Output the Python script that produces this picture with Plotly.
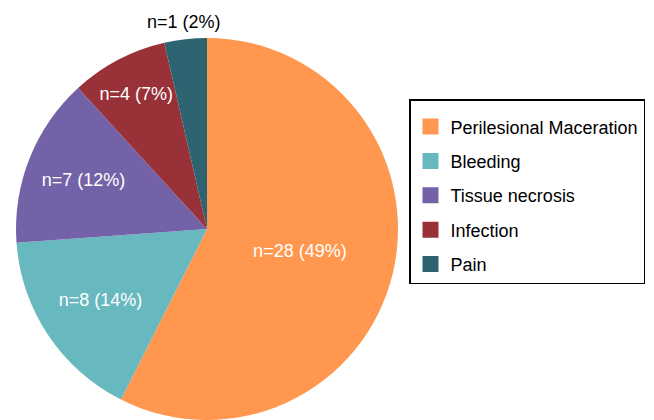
import math
import plotly.graph_objects as go

categories = ["Perilesional Maceration", "Bleeding", "Tissue necrosis", "Infection", "Pain"]
counts = [28, 8, 7, 4, 1]
percents = [49, 14, 12, 7, 2]
# slice sizes as drawn in the reference (the smallest slice is drawn a bit larger)
slice_values = [28, 8, 7, 4, 1.75]
colors = ["#FF974F", "#68B8C0", "#7462A8", "#993238", "#2E6472"]
text_position = ["inside", "inside", "inside", "inside", "outside"]

W, H = 654, 420
FONT = "Liberation Sans, Arial, Helvetica, sans-serif"
labels_text = [f"n={c} ({p}%)" for c, p in zip(counts, percents)]

pie_dom_x = [16 / W, 398 / W]
pie_dom_y = [0, 382 / H]

fig = go.Figure()
fig.add_trace(go.Pie(
    labels=categories,
    values=slice_values,
    text=[t if pos == "inside" else "" for t, pos in zip(labels_text, text_position)],
    textinfo="text",
    hovertext=labels_text,
    hoverinfo="label+text",
    sort=False,
    direction="clockwise",
    rotation=0,
    marker=dict(colors=colors, line=dict(width=0)),
    textposition=["inside" if p == "inside" else "none" for p in text_position],
    insidetextorientation="horizontal",
    insidetextfont=dict(color="#ffffff", size=18, family=FONT),
    showlegend=False,
    domain=dict(x=pie_dom_x, y=pie_dom_y),
))

# outside labels, centred just beyond the rim at the slice's mid-angle
total = sum(slice_values)
cx = (pie_dom_x[0] + pie_dom_x[1]) / 2 * W
cy = (pie_dom_y[0] + pie_dom_y[1]) / 2 * H
radius = (pie_dom_x[1] - pie_dom_x[0]) * W / 2
cum = 0
for v, t, pos in zip(slice_values, labels_text, text_position):
    mid = 2 * math.pi * (cum + v / 2) / total
    cum += v
    if pos != "outside":
        continue
    r = radius + 17
    fig.add_annotation(
        x=(cx + r * math.sin(mid)) / W, y=(cy + r * math.cos(mid)) / H,
        xref="paper", yref="paper", text=t, showarrow=False,
        xanchor="center", yanchor="middle",
        font=dict(color="#000000", size=18, family=FONT),
    )

# legend entries
for cat, col in zip(categories, colors):
    fig.add_trace(go.Scatter(
        x=[None], y=[None], mode="markers", name=cat,
        marker=dict(symbol="square", size=16, color=col),
        legendgroup=cat, showlegend=True,
    ))

fig.update_layout(
    width=W, height=H,
    margin=dict(l=0, r=0, t=0, b=0, autoexpand=False),
    paper_bgcolor="white", plot_bgcolor="white",
    font=dict(family=FONT, size=18, color="#000000"),
    xaxis=dict(visible=False), yaxis=dict(visible=False),
    legend=dict(
        x=409 / W, y=1 - 99 / H, xanchor="left", yanchor="top",
        bordercolor="#000000", borderwidth=1.5, bgcolor="white",
        font=dict(family=FONT, size=18, color="#000000"),
        tracegroupgap=8,
        title=dict(text=" ", font=dict(size=6)),
    ),
)

fig.write_html("out.html", config={"displayModeBar": False},
               post_script="document.body.style.margin='0';")
